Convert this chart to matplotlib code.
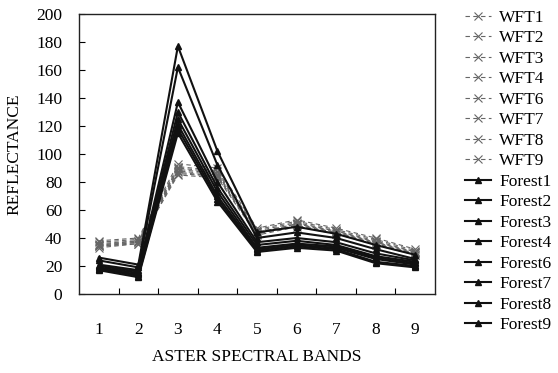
import numpy as np
import matplotlib.pyplot as plt
from matplotlib.ticker import FixedLocator

#####
# Data
#####
bands = [1, 2, 3, 4, 5, 6, 7, 8, 9]

wft_names = ['WFT1', 'WFT2', 'WFT3', 'WFT4', 'WFT6', 'WFT7', 'WFT8', 'WFT9']
wft1 = [38, 40, 93, 90, 47, 53, 47, 40, 32]
wft2 = [37, 39, 91, 88, 46, 52, 46, 39, 31]
wft3 = [36, 38, 90, 87, 45, 51, 45, 38, 30]
wft4 = [35, 38, 89, 86, 44, 50, 45, 37, 30]
wft6 = [35, 37, 88, 85, 44, 50, 44, 37, 29]
wft7 = [34, 37, 87, 84, 43, 49, 44, 36, 29]
wft8 = [34, 36, 86, 84, 43, 49, 43, 36, 28]
wft9 = [33, 36, 85, 83, 42, 48, 43, 35, 28]

forest_names = ['Forest1', 'Forest2', 'Forest3', 'Forest4',
                'Forest6', 'Forest7', 'Forest8', 'Forest9']
forest1 = [26, 21, 177, 102, 44, 48, 43, 35, 28]
forest2 = [24, 19, 162, 92, 40, 44, 40, 32, 25]
forest3 = [21, 17, 137, 80, 37, 40, 37, 29, 24]
forest4 = [20, 16, 130, 76, 35, 38, 35, 27, 23]
forest6 = [19, 15, 125, 73, 33, 36, 34, 26, 22]
forest7 = [18, 14, 121, 70, 32, 35, 33, 25, 21]
forest8 = [18, 13, 118, 68, 31, 34, 32, 23, 20]
forest9 = [17, 12, 115, 66, 30, 33, 31, 22, 19]

wft_data = [wft1, wft2, wft3, wft4, wft6, wft7, wft8, wft9]
forest_data = [forest1, forest2, forest3, forest4,
               forest6, forest7, forest8, forest9]

plt.rcParams['font.family'] = ['Liberation Serif', 'DejaVu Serif']

fig = plt.figure(figsize=(5.58, 3.73), dpi=100)
ax = fig.add_axes([0.1416, 0.2118, 0.638, 0.7507])

## WFT : thin dashed grey with x markers
for name, vals in zip(wft_names, wft_data):
    ax.plot(bands, vals, linestyle=(0, (4, 3)), color='#666666', linewidth=0.8,
            marker='x', markersize=6, markeredgewidth=0.8, label=name)
## Forest : solid black with triangles
for name, vals in zip(forest_names, forest_data):
    ax.plot(bands, vals, '-', color='#111111', linewidth=1.5,
            marker='^', markersize=5, label=name)

ax.set_xlim(0.5, 9.5)
ax.set_ylim(0, 200)
ax.set_yticks(np.arange(0, 201, 20))
ax.set_xticks(bands)
ax.xaxis.set_minor_locator(FixedLocator(np.arange(1.5, 9, 1)))
ax.tick_params(axis='x', which='major', length=0, pad=20, labelsize=12.5)
ax.tick_params(axis='x', which='minor', direction='in', length=4, width=0.8)
ax.tick_params(axis='y', direction='in', length=4, width=0.8, pad=12, labelsize=12.5)
for sp in ax.spines.values():
    sp.set_linewidth(1.0)
    sp.set_color('#222222')

ax.set_ylabel('REFLECTANCE', fontsize=12.5, labelpad=10)
ax.set_xlabel('ASTER SPECTRAL BANDS', fontsize=12.5, labelpad=8)

ax.legend(loc='upper left', bbox_to_anchor=(1.065, 1.04), frameon=False,
          fontsize=12.5, handlelength=1.5, handletextpad=0.45,
          labelspacing=0.25, borderaxespad=0)

plt.savefig('out.png', dpi=100)
plt.close()
